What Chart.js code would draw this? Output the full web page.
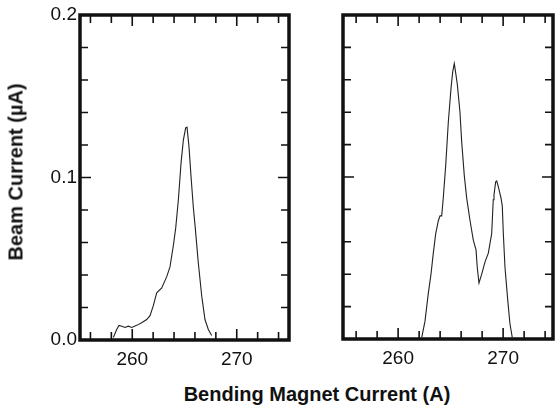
<!DOCTYPE html>
<html lang="en">
<head>
<meta charset="UTF-8">
<title>Beam Current vs Bending Magnet Current</title>
<script src="https://cdn.jsdelivr.net/npm/chart.js"></script>
<style>
  body { margin: 0; background: #fff; }
  #wrap { position: relative; width: 555px; height: 406px; font-family: "Liberation Sans", Arial, sans-serif; color: #111; }
  #leftBox { position: absolute; left: 0; top: 0; width: 300px; height: 372px; }
  #rightBox { position: absolute; left: 300px; top: 0; width: 255px; height: 372px; }
  .ytitle { position: absolute; left: 16px; top: 172px; transform: translate(-50%, -50%) rotate(-90deg);
            font-weight: bold; font-size: 20px; white-space: nowrap; }
  .xtitle { position: absolute; left: 317px; top: 394px; transform: translate(-50%, -50%);
            font-weight: bold; font-size: 20px; white-space: nowrap; }
</style>
</head>
<body>
<div id="wrap">
  <div id="leftBox"><canvas id="chartLeft"></canvas></div>
  <div id="rightBox"><canvas id="chartRight"></canvas></div>
  <div class="ytitle">Beam Current (µA)</div>
  <div class="xtitle">Bending Magnet Current (A)</div>
</div>

<script>
// left panel trace (A, µA)
const leftX = [258.19, 258.51, 258.73, 258.99, 259.31, 259.62, 259.95, 260.43, 260.90, 261.38,
               261.70, 262.01, 262.34, 262.82, 263.30, 263.61, 263.93, 264.16, 264.41, 264.67,
               264.89, 265.11, 265.24, 265.43, 265.62, 265.84, 266.03, 266.32, 266.65, 266.96,
               267.28, 267.60];
const leftY = [0.0015, 0.0065, 0.009, 0.0085, 0.0077, 0.0085, 0.0077, 0.009, 0.0106, 0.0126,
               0.015, 0.021, 0.029, 0.032, 0.039, 0.045, 0.058, 0.069, 0.086, 0.109,
               0.123, 0.1305, 0.131, 0.119, 0.101, 0.082, 0.069, 0.0475, 0.027, 0.0126,
               0.0065, 0.0028];

// right panel trace
const rightX = [262.25, 262.56, 262.87, 263.13, 263.35, 263.58, 263.83, 263.99, 264.15, 264.30,
                264.53, 264.78, 265.04, 265.20, 265.35, 265.51, 265.64, 265.89, 266.05, 266.30,
                266.53, 266.85, 267.16, 267.42, 267.54, 267.70, 267.96, 268.27, 268.59, 268.91,
                269.06, 269.13, 269.29, 269.39, 269.54, 269.80, 269.92, 270.02, 270.18, 270.44,
                270.65, 270.87];
const rightY = [0.001, 0.011, 0.028, 0.040, 0.053, 0.065, 0.073, 0.076, 0.076, 0.087,
                0.107, 0.134, 0.155, 0.165, 0.170, 0.163, 0.157, 0.140, 0.122, 0.101,
                0.087, 0.073, 0.061, 0.055, 0.044, 0.0345, 0.040, 0.0475, 0.053, 0.065,
                0.086, 0.089, 0.097, 0.0975, 0.094, 0.087, 0.082, 0.065, 0.044, 0.024,
                0.0094, 0.001];

const leftXRange = [255, 275];
const rightXRange = [254.75, 274.75];
const yRange = [0, 0.2];

const xTicks = [256, 258, 260, 262, 264, 266, 268, 270, 272, 274];
const xMajor = [260, 270];
const yTicks = [0, 0.02, 0.04, 0.06, 0.08, 0.1, 0.12, 0.14, 0.16, 0.18, 0.2];
const yMajor = [0, 0.1, 0.2];

const isIn = (arr, v) => arr.some(m => Math.abs(m - v) < 1e-9);

// frame + inward ticks on all four sides
const frameTicks = {
    id: 'frameTicks',
    afterDatasetsDraw(chart) {
        const { ctx, chartArea: a, scales: { x, y } } = chart;
        ctx.save();
        ctx.strokeStyle = '#111';
        ctx.lineWidth = 1.6;
        ctx.beginPath();
        xTicks.forEach(v => {
            const px = x.getPixelForValue(v);
            const len = isIn(xMajor, v) ? 11 : 8;
            ctx.moveTo(px, a.bottom); ctx.lineTo(px, a.bottom - len);
            ctx.moveTo(px, a.top); ctx.lineTo(px, a.top + len);
        });
        yTicks.forEach(v => {
            const py = y.getPixelForValue(v);
            const len = isIn(yMajor, v) ? 11 : 8;
            ctx.moveTo(a.left, py); ctx.lineTo(a.left + len, py);
            ctx.moveTo(a.right, py); ctx.lineTo(a.right - len, py);
        });
        ctx.stroke();
        ctx.lineWidth = 3.5;
        ctx.strokeRect(a.left, a.top, a.right - a.left, a.bottom - a.top);
        ctx.restore();
    }
};

function makePanel(id, xs, ys, xRange, yLabels, yWidth, xHeight, padRight) {
    const pts = xs.map((v, i) => ({ x: v, y: ys[i] }));
    return new Chart(document.getElementById(id), {
        type: 'scatter',
        data: {
            datasets: [{
                data: pts,
                showLine: true,
                borderColor: '#222',
                borderWidth: 1.1,
                pointRadius: 0,
                tension: 0
            }]
        },
        options: {
            responsive: true,
            maintainAspectRatio: false,
            animation: false,
            layout: { padding: { top: 15, right: padRight, left: 0, bottom: 0 } },
            plugins: { legend: { display: false }, tooltip: { enabled: false } },
            scales: {
                x: {
                    type: 'linear',
                    min: xRange[0], max: xRange[1],
                    grid: { display: false, drawTicks: false },
                    border: { display: false },
                    afterBuildTicks: s => { s.ticks = xTicks.map(v => ({ value: v })); },
                    afterFit: s => { s.height = xHeight; },
                    ticks: {
                        autoSkip: false,
                        maxRotation: 0,
                        padding: 8,
                        color: '#111',
                        font: { family: '"Liberation Sans", Arial, sans-serif', size: 19 },
                        callback: v => isIn(xMajor, v) ? String(v) : ''
                    }
                },
                y: {
                    min: yRange[0], max: yRange[1],
                    grid: { display: false, drawTicks: false },
                    border: { display: false },
                    afterBuildTicks: s => { s.ticks = yTicks.map(v => ({ value: v })); },
                    afterFit: s => { s.width = yWidth; },
                    ticks: {
                        display: yLabels,
                        autoSkip: false,
                        padding: 3,
                        color: '#111',
                        font: { family: '"Liberation Sans", Arial, sans-serif', size: 19 },
                        callback: v => isIn(yMajor, v) ? v.toFixed(1) : ''
                    }
                }
            }
        },
        plugins: [frameTicks]
    });
}

makePanel('chartLeft', leftX, leftY, leftXRange, true, 80, 32, 11);
makePanel('chartRight', rightX, rightY, rightXRange, false, 43, 33, 2);
</script>
</body>
</html>
